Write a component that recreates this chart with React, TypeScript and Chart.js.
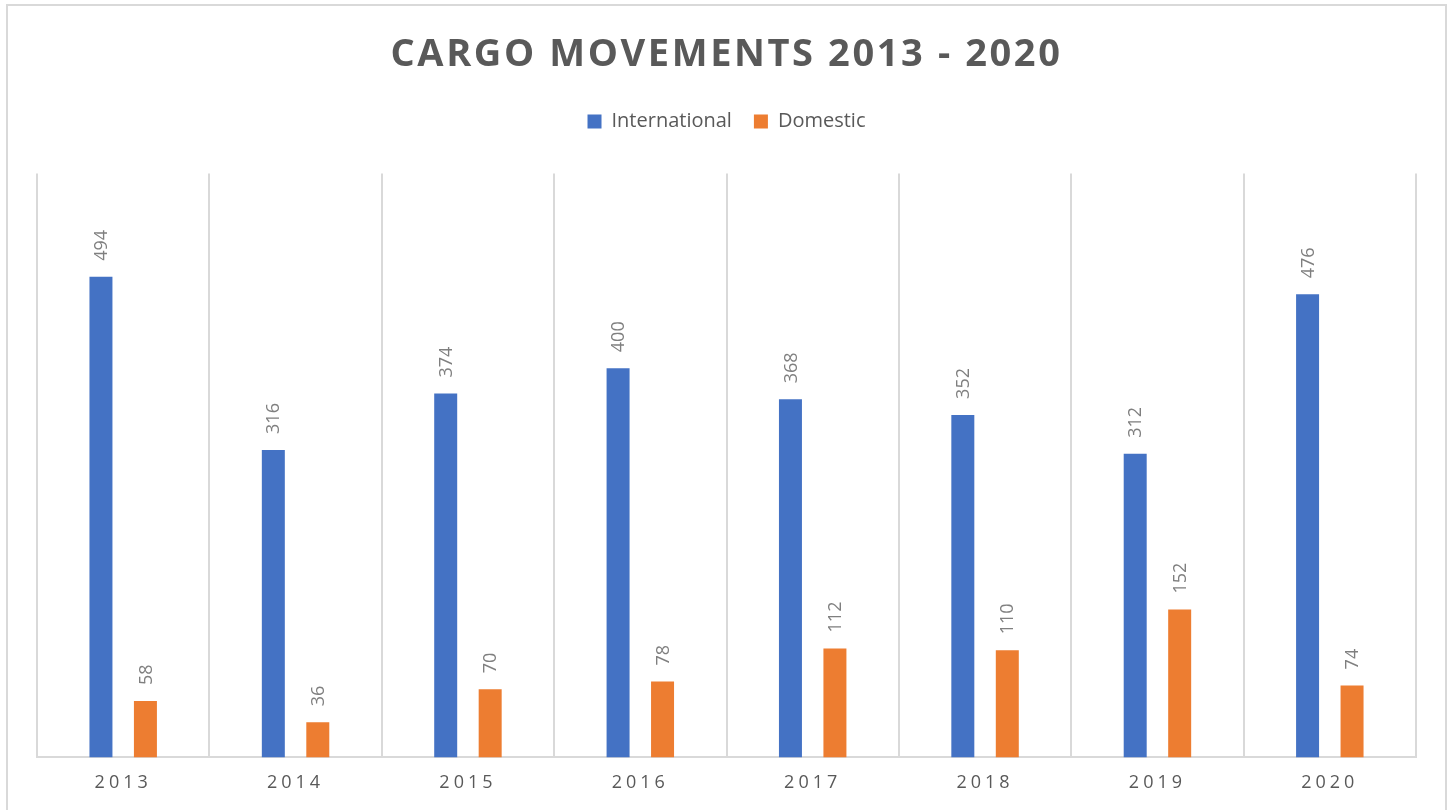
import React, { useEffect, useRef } from "react";
import { Chart, registerables } from "chart.js";

Chart.register(...registerables);

const years = ["2013", "2014", "2015", "2016", "2017", "2018", "2019", "2020"];
const international = [494, 316, 374, 400, 368, 352, 312, 476];
const domestic = [58, 36, 70, 78, 112, 110, 152, 74];
const yMin = 0;
const yMax = 600;

const FONT = "'Open Sans', 'Noto Sans', sans-serif";
const LEGEND_EXTRA = 32;

function patchSpacing(obj: any, method: string, spacing: string) {
  if (!obj || obj["__sp_" + method]) return;
  const orig = obj[method];
  obj[method] = function (...args: any[]) {
    const ctx = this.ctx;
    ctx.save();
    (ctx as any).letterSpacing = spacing;
    const r = orig.apply(this, args);
    ctx.restore();
    return r;
  };
  obj["__sp_" + method] = true;
}

const layoutPlugin = {
  id: "layoutTweaks",
  beforeLayout(chart: any) {
    patchSpacing(chart.titleBlock, "draw", "2.6px");
    patchSpacing(chart.scales?.x, "drawLabels", "4px");
    const lg = chart.legend;
    if (lg && !lg.__fitPatched) {
      const f = lg.fit;
      lg.fit = function () {
        f.call(this);
        this.height += LEGEND_EXTRA;
      };
      lg.__fitPatched = true;
    }
  },
};

const labelPlugin = {
  id: "barLabels",
  afterDatasetsDraw(chart: any) {
    const ctx = chart.ctx;
    ctx.save();
    ctx.font = `18px ${FONT}`;
    ctx.fillStyle = "#7f7f7f";
    ctx.textAlign = "left";
    ctx.textBaseline = "middle";
    chart.data.datasets.forEach((ds: any, di: number) => {
      const meta = chart.getDatasetMeta(di);
      meta.data.forEach((bar: any, i: number) => {
        ctx.save();
        ctx.translate(bar.x + 1, bar.y - 16);
        ctx.rotate(-Math.PI / 2);
        ctx.fillText(String(ds.data[i]), 0, 0);
        ctx.restore();
      });
    });
    ctx.restore();
  },
};

export default function App() {
  const ref = useRef<HTMLCanvasElement>(null);

  useEffect(() => {
    if (!ref.current) return;
    const chart = new Chart(ref.current, {
      type: "bar",
      data: {
        labels: years,
        datasets: [
          {
            label: "International",
            data: international,
            backgroundColor: "#4472c4",
            categoryPercentage: 0.516,
            barPercentage: 0.517,
          },
          {
            label: "Domestic",
            data: domestic,
            backgroundColor: "#ed7d31",
            categoryPercentage: 0.516,
            barPercentage: 0.517,
          },
        ],
      },
      options: {
        responsive: false,
        animation: false,
        devicePixelRatio: 1,
        layout: { padding: { left: 37, right: 34, top: 0, bottom: 1 } },
        plugins: {
          title: {
            display: true,
            text: "CARGO MOVEMENTS 2013 - 2020",
            color: "#595959",
            font: { family: FONT, size: 38, weight: "bold" },
            padding: { top: 32, bottom: 12 },
          },
          legend: {
            display: true,
            position: "top",
            labels: {
              boxWidth: 14,
              boxHeight: 14,
              padding: 22,
              color: "#595959",
              font: { family: FONT, size: 20 },
            },
          },
          tooltip: { enabled: false },
        },
        scales: {
          x: {
            grid: { color: "#d9d9d9", lineWidth: 2, drawTicks: false, offset: true },
            border: { color: "#d9d9d9", width: 2 },
            ticks: { color: "#595959", font: { family: FONT, size: 18 }, padding: 15 },
          },
          y: { display: false, min: yMin, max: yMax },
        },
      },
      plugins: [layoutPlugin, labelPlugin],
    });
    return () => chart.destroy();
  }, []);

  return (
    <div style={{ position: "fixed", left: 0, top: 0, width: 1450, height: 810, background: "#fff", overflow: "hidden" }}>
      <div
        style={{
          position: "absolute",
          left: 6,
          top: 4,
          width: 1437,
          height: 820,
          border: "2px solid #d9d9d9",
        }}
      />
      <canvas ref={ref} width={1450} height={810} style={{ position: "absolute", left: 0, top: 0 }} />
    </div>
  );
}
